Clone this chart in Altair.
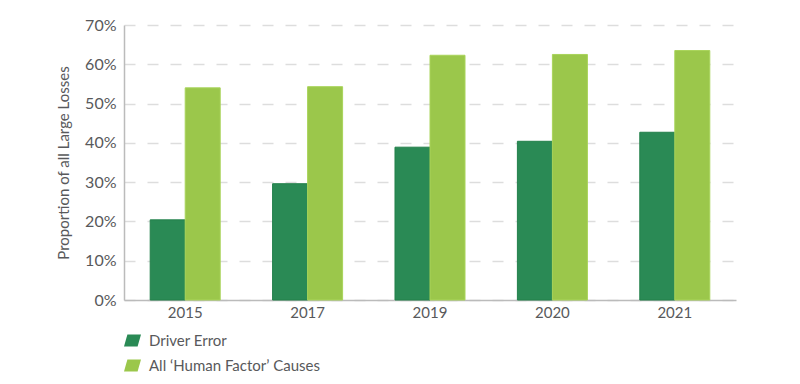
import altair as alt
import pandas as pd

years = ["2015", "2017", "2019", "2020", "2021"]
series = ["Driver Error", "All \u2018Human Factor\u2019 Causes"]
driver_error = [20.4, 29.6, 38.9, 40.4, 42.7]
human_factor = [54.0, 54.3, 62.3, 62.5, 63.5]
colors = ["#2a8a55", "#9bc74b"]

rows = []
for i, y in enumerate(years):
    rows.append({"year": y, "series": series[0], "value": driver_error[i] / 100})
    rows.append({"year": y, "series": series[1], "value": human_factor[i] / 100})
df = pd.DataFrame(rows)

FONT = "Lato"
GRAY = "#58595b"

chart = alt.Chart(df).mark_bar(strokeWidth=1).encode(
    x=alt.X("year:N", sort=years, title=None,
            scale=alt.Scale(paddingInner=0.428, paddingOuter=0.214),
            axis=alt.Axis(labelAngle=0, labelFontSize=15, labelColor=GRAY, labelFont=FONT,
                          ticks=False, domainColor="#bbbbbb", domainWidth=1.5, labelPadding=5)),
    xOffset=alt.XOffset("series:N", sort=series),
    y=alt.Y("value:Q", title="Proportion of all Large Losses",
            scale=alt.Scale(domain=[0, 0.7]),
            axis=alt.Axis(format=".0%", values=[0, 0.1, 0.2, 0.3, 0.4, 0.5, 0.6, 0.7],
                          labelFontSize=16, labelColor=GRAY, labelFont=FONT, labelPadding=8,
                          ticks=False, domainColor="#bbbbbb", domainWidth=1.5,
                          gridColor="#dddddd", gridDash=[11, 12], gridWidth=1.5,
                          titleFont=FONT, titleFontSize=15, titleFontWeight="normal",
                          titleColor=GRAY, titlePadding=13)),
    color=alt.Color("series:N", sort=series,
                    scale=alt.Scale(domain=series, range=colors),
                    legend=alt.Legend(title=None, orient="none", legendX=0, legendY=307,
                                      direction="vertical",
                                      symbolType="M-0.6,-0.7 L1,-0.7 L0.6,0.7 L-1,0.7 Z",
                                      symbolSize=289, symbolStrokeWidth=0,
                                      labelFont=FONT, labelFontSize=15, labelColor=GRAY,
                                      labelOffset=8, labelLimit=400, rowPadding=8, padding=0)),
    stroke=alt.Stroke("series:N", sort=series,
                      scale=alt.Scale(domain=series, range=["#23804b", "#a9d45a"]),
                      legend=None),
).properties(width=612, height=275).configure(
    padding={"left": 48, "top": 9, "right": 5, "bottom": 5}
).configure_view(stroke=None)

chart.save("out.html", embed_options={"renderer": "svg", "actions": False})
